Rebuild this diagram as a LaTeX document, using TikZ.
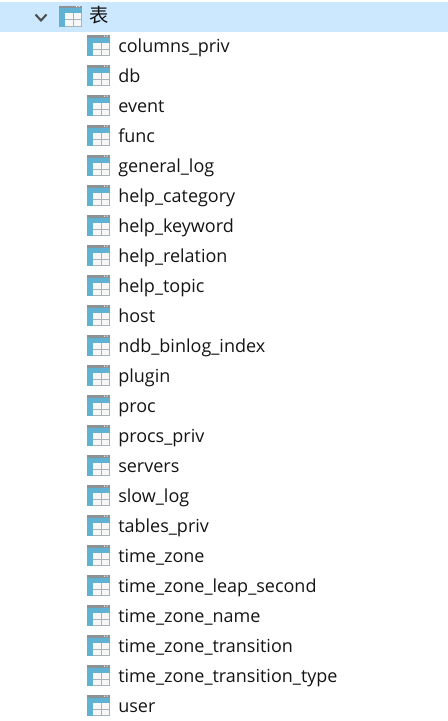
\documentclass[tikz,border=0pt]{standalone}
\usepackage{fontspec}
\setmainfont{Open Sans}
\newfontfamily\cjk{Noto Sans CJK SC}
\usetikzlibrary{positioning,calc}
\definecolor{hibar}{HTML}{CCE8FF}
\definecolor{icblue}{HTML}{5FB2D2}
\definecolor{icgrey}{HTML}{8C9296}
\definecolor{icline}{HTML}{A9B4BA}
\tikzset{
  x=0.75pt, y=-0.75pt,
  lbl/.style     = {anchor=base west, inner sep=0pt, text=black!92,
                    font=\fontsize{13.5pt}{15pt}\selectfont},
  hbar/.style    = {fill=hibar, draw=none},
  chev/.style    = {draw=black!70, line width=1.5pt},
  tableicon/.pic = {
    \fill[black!3] (0,-10.5) rectangle (23,10.5);
    \fill[icgrey] (0,-10.5) rectangle (23,-8);
    \fill[white] (17,-10) rectangle (18,-9) (19.5,-10) rectangle (20.5,-9);
    \fill[icblue] (0,-8) rectangle (23,-3);
    \fill[icblue] (0,-3) rectangle (6,10.5);
    \draw[icline, line width=0.75pt] (6,3.5) -- (23,3.5) (14.5,-3) -- (14.5,10.5)
      (6,10) -- (23,10) (22.6,-3) -- (22.6,10.5);
  },
}
\begin{document}
\begin{tikzpicture}
  \useasboundingbox (0,0) rectangle (448,721);
  % top row
  \fill[hbar] (0,2) rectangle (448,32);
  \draw[chev] (35.5,14.5) -- (41,20.5) -- (46.5,14.5);
  \pic at (59,16) {tableicon};
  \node[lbl, font=\fontsize{14.5pt}{15pt}\cjk] (top) at (89,22) {表};
  % table rows
  \foreach \name [count=\i from 0] in {columns\_priv, db, event, func, general\_log,
      help\_category, help\_keyword, help\_relation, help\_topic, host,
      ndb\_binlog\_index, plugin, proc, procs\_priv, servers, slow\_log,
      tables\_priv, time\_zone, time\_zone\_leap\_second, time\_zone\_name,
      time\_zone\_transition, time\_zone\_transition\_type, user}
  {
    \pic at (87,{45.5+30*\i}) {tableicon};
    \node[lbl] (row\i) at (118,{52+30*\i}) {\name};
  }
\end{tikzpicture}
\end{document}
